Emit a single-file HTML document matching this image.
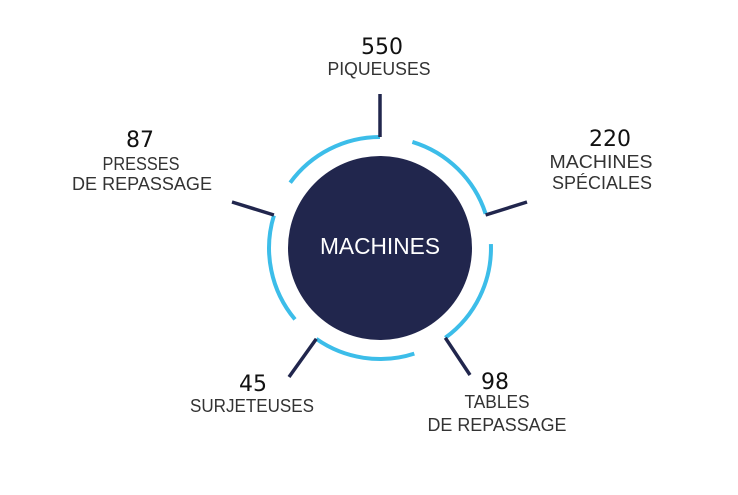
<!DOCTYPE html>
<html><head><meta charset="utf-8"><style>
html,body{margin:0;padding:0;background:#fff;}
svg{display:block;}
.n{font-family:"DejaVu Sans","Liberation Sans",sans-serif;font-size:22px;fill:#111;text-anchor:middle;}
.l{font-family:"Liberation Sans","DejaVu Sans",sans-serif;font-size:18px;fill:#333;text-anchor:middle;}
</style></head><body>
<svg width="738" height="495" viewBox="0 0 738 495" xmlns="http://www.w3.org/2000/svg">
<circle cx="380" cy="248" r="92" fill="#21264d"/>
<g fill="none" stroke="#3cbde9" stroke-width="4">
<path d="M290.2 182.7 A111 111 0 0 1 380 137"/>
<path d="M412.4 141.9 A111 111 0 0 1 485.6 213.7"/>
<path d="M490.9 244.1 A111 111 0 0 1 445.3 337.8"/>
<path d="M414.3 353.6 A111 111 0 0 1 316.3 338.9"/>
<path d="M295 319.4 A111 111 0 0 1 273.9 215.6"/>
</g>
<g stroke="#21264d" stroke-width="3.5" fill="none">
<line x1="380" y1="94" x2="380" y2="137"/>
<line x1="485.6" y1="215" x2="527" y2="202"/>
<line x1="445.3" y1="337.8" x2="470" y2="375"/>
<line x1="316.3" y1="338.9" x2="289" y2="377"/>
<line x1="273.9" y1="215" x2="232" y2="202"/>
</g>
<text x="380" y="254" font-family="Liberation Sans, DejaVu Sans, sans-serif" font-size="23" fill="#fff" text-anchor="middle" textLength="120" lengthAdjust="spacingAndGlyphs">MACHINES</text>
<text class="n" x="382" y="54">550</text>
<text class="l" x="379" y="75" textLength="103" lengthAdjust="spacingAndGlyphs">PIQUEUSES</text>
<text class="n" x="610" y="146">220</text>
<text class="l" x="601" y="168" textLength="103" lengthAdjust="spacingAndGlyphs">MACHINES</text>
<text class="l" x="602" y="189" textLength="100" lengthAdjust="spacingAndGlyphs">SPÉCIALES</text>
<text class="n" x="140" y="147">87</text>
<text class="l" x="141" y="170" textLength="77" lengthAdjust="spacingAndGlyphs">PRESSES</text>
<text class="l" x="142" y="190" textLength="140" lengthAdjust="spacingAndGlyphs">DE REPASSAGE</text>
<text class="n" x="495" y="389">98</text>
<text class="l" x="497" y="408" textLength="65" lengthAdjust="spacingAndGlyphs">TABLES</text>
<text class="l" x="497" y="431" textLength="139" lengthAdjust="spacingAndGlyphs">DE REPASSAGE</text>
<text class="n" x="253" y="391">45</text>
<text class="l" x="252" y="412" textLength="124" lengthAdjust="spacingAndGlyphs">SURJETEUSES</text>
</svg>
</body></html>
